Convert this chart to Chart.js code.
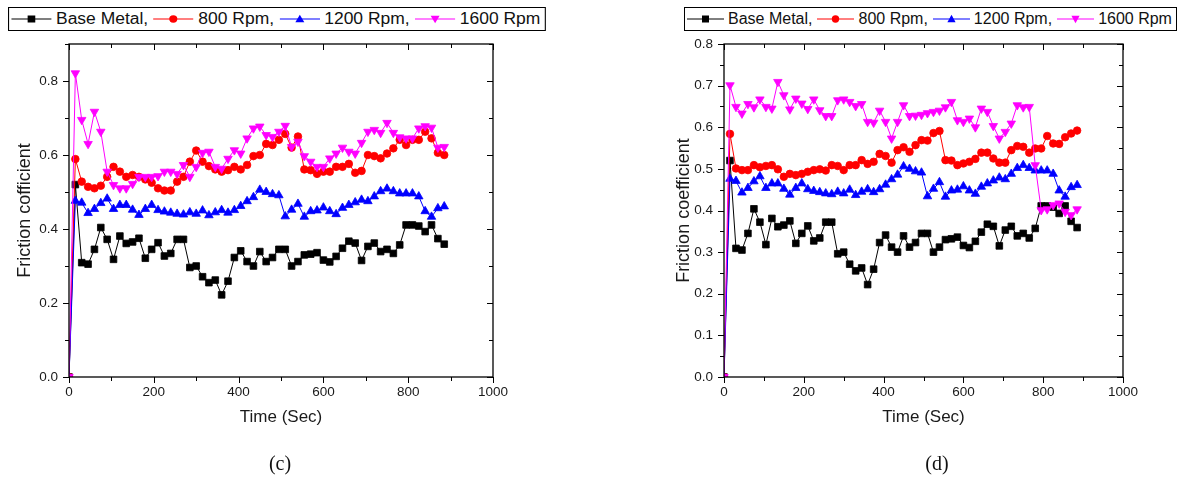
<!DOCTYPE html>
<html><head><meta charset="utf-8">
<script src="https://cdn.jsdelivr.net/npm/chart.js@4.4.1/dist/chart.umd.min.js"></script>
<style>
html,body{margin:0;padding:0;background:#fff;}
body{width:1194px;height:488px;position:relative;overflow:hidden;font-family:"Liberation Sans",Arial,sans-serif;}
canvas{position:absolute;top:0;}
#cvC{left:0;} #cvD{left:597px;}
.legend{position:absolute;top:7px;height:24px;width:493px;box-sizing:border-box;border:1px solid #000;display:flex;align-items:center;padding-left:2px;font-size:16px;color:#111;white-space:nowrap;background:#fff;}
.legend svg{margin-right:4px;flex:none;}
.legend span{margin-right:5px;}
#legC{left:8px;transform:scaleX(1.091);transform-origin:0 0;}
#legD{left:684px;}
.cap{position:absolute;top:452px;font-family:"Liberation Serif","Times New Roman",serif;font-size:20px;transform:translateX(-50%);color:#111;}
</style></head>
<body>
<canvas id="cvC" width="597" height="488"></canvas>
<canvas id="cvD" width="597" height="488"></canvas>
<div class="legend" id="legC"></div>
<div class="legend" id="legD"></div>
<div class="cap" style="left:280px">(c)</div>
<div class="cap" style="left:937px">(d)</div>
<script>
// ---- data ----
const time = [0,15,30,45,60,75,90,105,120,135,150,165,180,195,210,225,240,255,270,285,
  300,315,330,345,360,375,390,405,420,435,450,465,480,495,510,525,540,555,570,585,
  600,615,630,645,660,675,690,705,720,735,750,765,780,795,810,825,840,855,870,885];
const seriesNames = ['Base Metal,','800 Rpm,','1200 Rpm,','1600 Rpm'];
const baseMetal = [0,0.520,0.309,0.305,0.345,0.404,0.372,0.318,0.381,0.361,0.365,0.375,0.321,0.345,0.363,0.327,0.334,0.372,0.372,0.296,
  0.300,0.271,0.255,0.262,0.222,0.259,0.323,0.341,0.312,0.300,0.339,0.312,0.323,0.345,0.345,0.300,0.312,0.330,0.332,0.336,
  0.316,0.311,0.326,0.348,0.367,0.362,0.315,0.353,0.362,0.339,0.345,0.334,0.357,0.411,0.411,0.408,0.393,0.411,0.374,0.359];
const rpm800C = [0,0.589,0.528,0.514,0.510,0.517,0.541,0.568,0.555,0.541,0.546,0.541,0.534,0.525,0.510,0.504,0.504,0.528,0.541,0.582,
  0.612,0.582,0.570,0.561,0.555,0.559,0.568,0.561,0.573,0.597,0.600,0.630,0.627,0.641,0.657,0.620,0.650,0.561,0.559,0.549,
  0.555,0.555,0.568,0.568,0.576,0.552,0.557,0.600,0.597,0.591,0.604,0.618,0.641,0.627,0.641,0.641,0.663,0.645,0.606,0.600];
const rpm1200 = [0,0.476,0.471,0.443,0.454,0.470,0.482,0.454,0.465,0.465,0.452,0.438,0.454,0.465,0.451,0.447,0.444,0.441,0.439,0.445,
  0.441,0.450,0.437,0.445,0.451,0.444,0.451,0.462,0.475,0.486,0.506,0.500,0.494,0.491,0.434,0.452,0.468,0.433,0.448,0.450,
  0.458,0.448,0.440,0.457,0.465,0.472,0.479,0.475,0.488,0.502,0.509,0.502,0.496,0.496,0.496,0.488,0.448,0.433,0.456,0.461];
const rpm1600C = [0,0.821,0.695,0.630,0.717,0.663,0.555,0.519,0.510,0.510,0.522,0.541,0.541,0.541,0.543,0.555,0.555,0.549,0.573,0.541,
  0.568,0.606,0.609,0.568,0.563,0.590,0.613,0.604,0.645,0.672,0.677,0.654,0.649,0.663,0.679,0.622,0.636,0.597,0.582,0.568,
  0.568,0.591,0.604,0.620,0.609,0.604,0.633,0.663,0.668,0.660,0.687,0.660,0.648,0.645,0.645,0.672,0.678,0.674,0.620,0.622];
const rpm800D = [0,0.584,0.501,0.497,0.497,0.509,0.504,0.507,0.509,0.499,0.481,0.488,0.485,0.488,0.493,0.497,0.499,0.496,0.509,0.507,
  0.497,0.509,0.509,0.521,0.512,0.517,0.536,0.531,0.515,0.545,0.552,0.541,0.557,0.569,0.568,0.586,0.591,0.521,0.520,0.509,
  0.513,0.517,0.524,0.539,0.539,0.525,0.515,0.515,0.545,0.555,0.553,0.539,0.549,0.549,0.579,0.561,0.560,0.576,0.585,0.592];
const rpm1600D = [0,0.701,0.649,0.633,0.656,0.648,0.667,0.649,0.645,0.709,0.677,0.643,0.669,0.657,0.644,0.667,0.641,0.627,0.627,0.665,
  0.667,0.661,0.651,0.656,0.613,0.611,0.640,0.613,0.573,0.613,0.653,0.627,0.628,0.630,0.634,0.637,0.640,0.648,0.661,0.617,
  0.613,0.621,0.600,0.645,0.637,0.603,0.573,0.589,0.609,0.653,0.648,0.649,0.509,0.401,0.403,0.413,0.417,0.397,0.389,0.403];
const xTickLabels = [0,200,400,600,800,1000];
const xMinorTicks = [0,100,200,300,400,500,600,700,800,900,1000];
const yTickLabelsC = [0,0.2,0.4,0.6,0.8];
const yMinorTicksC = [0,0.1,0.2,0.3,0.4,0.5,0.6,0.7,0.8,0.9];
const yTickLabelsD = [0,0.1,0.2,0.3,0.4,0.5,0.6,0.7,0.8];
const yMinorTicksD = [0,0.05,0.1,0.15,0.2,0.25,0.3,0.35,0.4,0.45,0.5,0.55,0.6,0.65,0.7,0.75,0.8];

// ---- styles ----
const styles = [
  {color:'#000000', pointStyle:'rect', radius:4.7, rotation:0},
  {color:'#ff0000', pointStyle:'circle', radius:3.8, rotation:0},
  {color:'#0000ff', pointStyle:'triangle', radius:4.9, rotation:0},
  {color:'#ff00ff', pointStyle:'triangle', radius:4.9, rotation:180}
];

Chart.defaults.font.family = '"Liberation Sans", Arial, sans-serif';

function isIn(arr, v){ return arr.some(a => Math.abs(a - v) < 1e-9); }

function framePlugin(yMinor, yMajor){
  return {
    id:'frameTicks',
    afterDraw(chart){
      const {ctx, chartArea:{left,right,top,bottom}, scales:{x,y}} = chart;
      ctx.save();
      ctx.strokeStyle = '#000';
      ctx.lineWidth = 1.3;
      ctx.strokeRect(left, top, right-left, bottom-top);
      ctx.lineWidth = 1;
      ctx.beginPath();
      xMinorTicks.forEach(v => {
        const px = Math.round(x.getPixelForValue(v)) + 0.5;
        const len = isIn(xTickLabels, v) ? 6 : 4;
        ctx.moveTo(px, bottom); ctx.lineTo(px, bottom + len);
        ctx.moveTo(px, top); ctx.lineTo(px, top + len);
      });
      yMinor.forEach(v => {
        const py = Math.round(y.getPixelForValue(v)) + 0.5;
        const len = isIn(yMajor, v) ? 6 : 4;
        ctx.moveTo(left, py); ctx.lineTo(left - len, py);
        ctx.moveTo(right, py); ctx.lineTo(right - len, py);
      });
      ctx.stroke();
      ctx.restore();
    }
  };
}

function makeChart(id, series, yTicks, yMinor, yMax, yTitle, pad){
  return new Chart(document.getElementById(id), {
    type:'line',
    data:{datasets: series.map((vals,i)=>({
      label: seriesNames[i],
      data: time.map((t,k)=>({x:t, y:vals[k]})),
      borderColor: styles[i].color,
      backgroundColor: styles[i].color,
      borderWidth: 1,
      pointStyle: styles[i].pointStyle,
      pointRadius: styles[i].radius,
      pointRotation: styles[i].rotation,
      pointBorderWidth: 0.8,
      pointBorderColor: styles[i].color,
      pointBackgroundColor: styles[i].color,
      tension: 0,
      order: 4 - i
    }))},
    options:{
      responsive:false, animation:false, devicePixelRatio:1,
      events: [],
      layout:{padding:{left:pad.left, right:pad.right, top:44, bottom:60}},
      plugins:{legend:{display:false}, tooltip:{enabled:false}},
      scales:{
        x:{
          type:'linear', min:0, max:1000,
          afterBuildTicks: s => { s.ticks = xTickLabels.map(v => ({value:v})); },
          afterFit: s => { s.height = 51; },
          grid:{display:false, drawTicks:false}, border:{display:false},
          ticks:{padding:7, font:{size:13.5}, color:'#1a1a1a', maxRotation:0, autoSkip:false, callback: v => String(v)},
          title:{display:true, text:'Time (Sec)', font:{size:17}, color:'#1a1a1a', padding:{top:0, bottom:0}}
        },
        y:{
          type:'linear', min:0, max:yMax,
          afterBuildTicks: s => { s.ticks = yTicks.map(v => ({value:v})); },
          afterFit: s => { s.width = pad.yWidth; },
          grid:{display:false, drawTicks:false}, border:{display:false},
          ticks:{padding:11, font:{size:13.5}, color:'#1a1a1a', autoSkip:false, callback: v => Number(v).toFixed(1)},
          title:{display:true, text:yTitle, font:{size:18}, color:'#1a1a1a', padding:{top:0, bottom:0}}
        }
      }
    },
    plugins:[framePlugin(yMinor, yTicks)]
  });
}

makeChart('cvC', [baseMetal, rpm800C, rpm1200, rpm1600C], yTickLabelsC, yMinorTicksC, 0.9,
  'Friction cofficient', {left:14, yWidth:55, right:104});
makeChart('cvD', [baseMetal, rpm800D, rpm1200, rpm1600D], yTickLabelsD, yMinorTicksD, 0.8,
  'Friction coefficient', {left:76, yWidth:51, right:71});

// ---- legends ----
function markerSvg(i){
  const c = styles[i].color;
  let m = '';
  if (i === 0) m = `<rect x="15" y="2.5" width="7" height="7" fill="${c}"/>`;
  else if (i === 1) m = `<circle cx="18.5" cy="6" r="3.7" fill="${c}"/>`;
  else if (i === 2) m = `<polygon points="18.5,1.8 22.6,9.3 14.4,9.3" fill="${c}"/>`;
  else m = `<polygon points="14.4,2.7 22.6,2.7 18.5,10.2" fill="${c}"/>`;
  return `<svg width="37" height="12" viewBox="0 0 37 12"><line x1="0" y1="6" x2="37" y2="6" stroke="${c}" stroke-width="1"/>${m}</svg>`;
}
['legC','legD'].forEach(id => {
  const el = document.getElementById(id);
  el.innerHTML = seriesNames.map((n,i) => markerSvg(i) + `<span>${n}</span>`).join('');
});
</script>
</body></html>
